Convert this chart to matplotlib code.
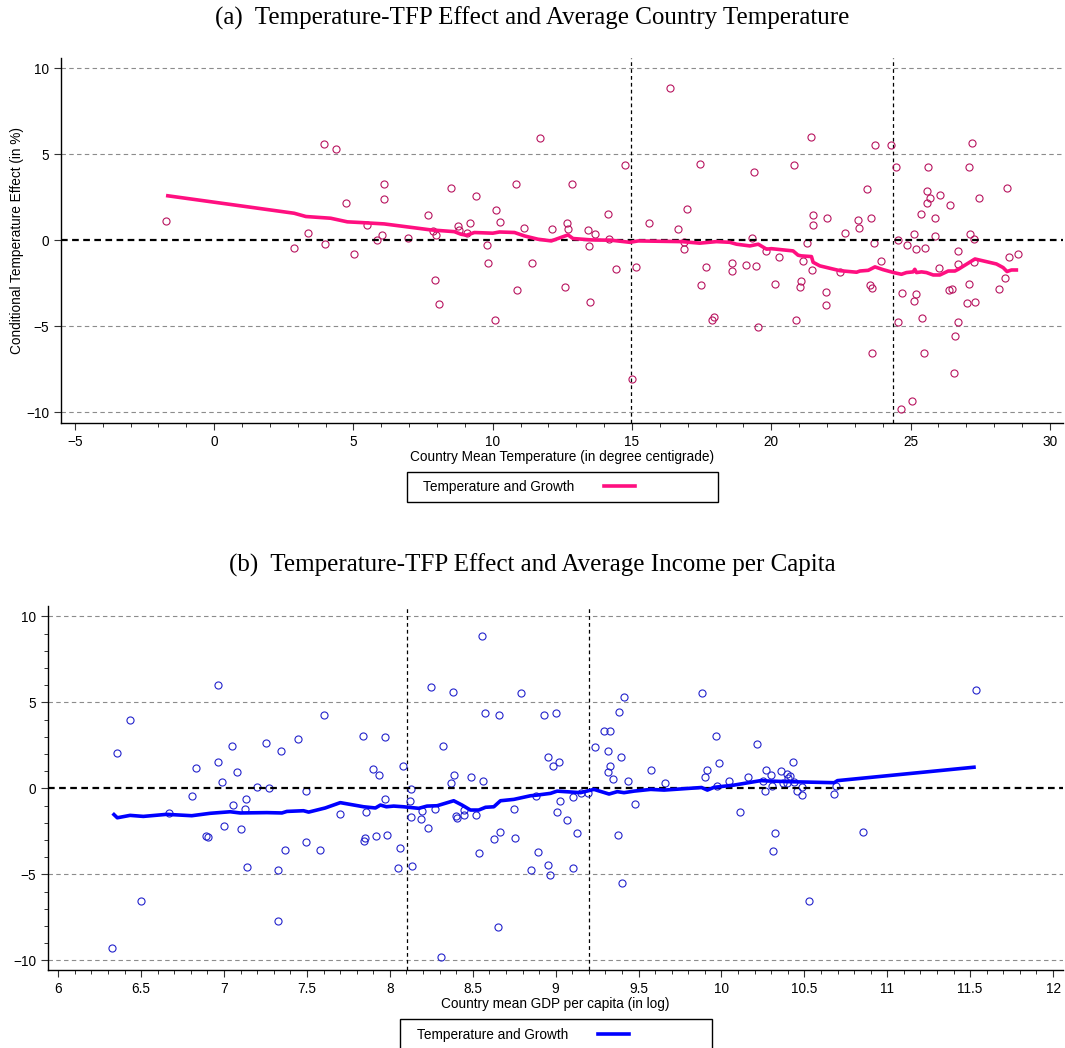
import matplotlib
matplotlib.use('Agg')
import matplotlib.pyplot as plt
from matplotlib.lines import Line2D
from matplotlib.patches import Rectangle
from matplotlib.ticker import MultipleLocator

plt.rcParams['font.family'] = ['Liberation Sans', 'DejaVu Sans']

# ---- panel (a): country mean temperature vs conditional temperature effect
temp_x = [-1.74, 2.88, 3.35, 3.93, 3.98, 4.36, 4.74, 5.01, 5.48, 5.86, 6.01, 6.08, 6.11,
          6.94, 7.69, 7.85, 7.94, 7.96, 8.08, 8.50, 8.74, 8.80, 9.06, 9.19, 9.39, 9.78,
          9.83, 10.08, 10.10, 10.27, 10.83, 10.86, 11.12, 11.40, 11.68, 12.11, 12.61,
          12.67, 12.70, 12.83, 13.42, 13.47, 13.49, 13.66, 14.14, 14.17, 14.42, 14.75,
          15.00, 15.15, 15.60, 16.36, 16.64, 16.87, 16.87, 16.96, 17.43, 17.48, 17.66,
          17.86, 17.93, 18.57, 18.59, 19.10, 19.32, 19.36, 19.44, 19.53, 19.81, 20.12,
          20.26, 20.83, 20.88, 21.02, 21.08, 21.13, 21.29, 21.44, 21.48, 21.48, 21.45,
          21.95, 21.98, 22.01, 22.46, 22.63, 23.10, 23.13, 23.45, 23.55, 23.59, 23.63,
          23.63, 23.70, 23.73, 23.94, 24.28, 24.47, 24.53, 24.55, 24.67, 24.70, 24.86,
          25.04, 25.13, 25.12, 25.20, 25.21, 25.38, 25.40, 25.47, 25.51, 25.57, 25.60,
          25.63, 25.69, 25.88, 25.89, 26.01, 26.05, 26.36, 26.41, 26.48, 26.57, 26.61,
          26.69, 26.71, 26.71, 27.03, 27.11, 27.11, 27.14, 27.22, 27.28, 27.31, 27.28,
          27.47, 28.17, 28.37, 28.46, 28.52, 28.87]
temp_eff = [1.13, -0.42, 0.44, 5.62, -0.18, 5.33, 2.16, -0.77, 0.92, 0.03, 0.30, 3.31, 2.40,
            0.16, 1.48, 0.55, -2.31, 0.30, -3.72, 3.04, 0.81, 0.59, 0.44, 1.02, 2.57, -0.28,
            -1.33, -4.65, 1.79, 1.06, 3.31, -2.90, 0.75, -1.29, 5.93, 0.65, -2.71,
            1.00, 0.65, 3.27, 0.63, -0.34, -3.60, 0.40, 1.52, 0.11, -1.68, 4.39,
            -8.08, -1.56, 1.04, 8.84, 0.69, -0.07, -0.49, 1.81, 4.45, -2.61, -1.56,
            -4.63, -4.47, -1.33, -1.78, -1.45, 0.15, 3.99, -1.50, -5.05, -0.63, -2.55,
            -0.94, 4.36, -4.63, -2.72, -2.38, -1.19, -0.13, 6.02, 1.48, 0.92, -1.72,
            -2.98, -3.78, 1.33, -1.85, 0.46, 1.17, 0.75, 2.98, -2.59, 1.29, -2.76,
            -6.57, -0.13, 5.54, -1.17, 5.54, 4.28, -4.75, 0.01, -9.81, -3.08, -0.26,
            -9.32, -3.50, 0.36, -3.13, -0.49, 1.52, -4.49, -6.55, -0.42, 2.90, 2.16,
            4.26, 2.47, 1.31, 0.28, -1.60, 2.65, -2.90, 2.07, -2.81, -7.73, -5.54,
            -4.76, -0.63, -1.39, -3.66, 4.28, -2.53, 0.40, 5.69, 0.07, -3.60, -1.27,
            2.47, -2.85, -2.18, 3.06, -0.96, -0.77]

# smoothed fit, panel (a)
fit_a_x = [-1.73, 2.87, 3.29, 4.18, 4.78, 5.26, 6.10, 7.78, 8.62, 8.86, 9.06, 9.34, 10.0,
           10.24, 10.78, 11.14, 11.62, 12.10, 12.34, 12.70, 12.88, 13.54, 14.26, 14.92,
           15.22, 16.78, 17.43, 18.03, 18.51, 18.75, 19.23, 19.53, 19.83, 20.0, 20.78,
           20.96, 21.08, 21.44, 21.50, 21.74, 22.46, 23.06, 23.18, 23.48, 23.72, 24.01,
           24.39, 24.67, 24.85, 25.09, 25.15, 25.21, 25.39, 25.57, 25.81, 26.05, 26.35,
           26.59, 26.71, 27.31, 28.08, 28.32, 28.46, 28.62, 28.86]
fit_a_y = [2.61, 1.58, 1.39, 1.29, 1.08, 1.04, 0.96, 0.61, 0.51, 0.36, 0.30, 0.46, 0.42,
           0.49, 0.46, 0.26, 0.07, -0.03, 0.11, 0.32, 0.11, 0.03, 0.01, -0.11,
           -0.03, -0.07, -0.16, -0.07, -0.11, -0.22, -0.32, -0.22, -0.51, -0.48, -0.61,
           -0.86, -0.90, -0.94, -1.27, -1.48, -1.76, -1.85, -1.78, -1.74, -1.54, -1.70,
           -1.87, -1.97, -1.87, -1.83, -1.68, -1.87, -1.83, -1.87, -2.01, -2.01, -1.78,
           -1.78, -1.68, -1.08, -1.37, -1.58, -1.81, -1.72, -1.72]
vlines_a = [14.95, 24.35]

# ---- panel (b): log GDP per capita vs conditional temperature effect
gdp_x = [6.322, 6.356, 6.431, 6.501, 6.670, 6.807, 6.831, 6.892, 6.902, 6.962, 6.962, 6.986,
         6.998, 7.049, 7.053, 7.075, 7.101, 7.125, 7.131, 7.139, 7.200, 7.254, 7.268, 7.324,
         7.324, 7.345, 7.367, 7.447, 7.494, 7.494, 7.580, 7.602, 7.699,
         7.838, 7.844, 7.852, 7.854, 7.900, 7.917, 7.933, 7.971, 7.973, 7.985, 8.049,
         8.059, 8.077, 8.124, 8.126, 8.130, 8.134, 8.187, 8.193, 8.227, 8.251, 8.275,
         8.309, 8.321, 8.366, 8.380, 8.386, 8.396, 8.402, 8.450, 8.450, 8.492, 8.520,
         8.539, 8.555, 8.559, 8.575, 8.629, 8.653, 8.657, 8.665, 8.748, 8.756, 8.790,
         8.853, 8.879, 8.891, 8.931, 8.953, 8.955, 8.965, 8.981, 9.001, 9.009, 9.021,
         9.025, 9.066, 9.104, 9.106, 9.130, 9.150, 9.195, 9.239, 9.292, 9.326, 9.314,
         9.330, 9.318, 9.346, 9.378, 9.384, 9.396, 9.402, 9.410, 9.436, 9.478, 9.577,
         9.658, 9.880, 9.903, 9.910,
         9.966, 9.972, 9.988, 10.048, 10.109, 10.161, 10.215, 10.251, 10.264, 10.271,
         10.296, 10.304, 10.312, 10.324, 10.359, 10.369, 10.395, 10.399, 10.415, 10.395,
         10.433, 10.439, 10.453, 10.483, 10.483, 10.527, 10.680, 10.690, 10.851, 11.534]
gdp_eff = [-9.30, 2.05, 3.99, -6.55, -1.41, -0.43, 1.18, -2.75, -2.85, 6.01, 1.51, 0.35,
           -2.17, 2.48, -0.95, 0.93, -2.38, -1.20, -0.62, -4.59, 0.06, 2.66, 0.02, -4.75,
           -7.71, 2.17, -3.59, 2.89, -0.14, -3.10, -3.59, 4.26, -1.49,
           3.06, -3.04, -2.91, -1.38, 1.14, -2.79, 0.76, -0.62, 2.98, -2.71, -4.63,
           -3.47, 1.30, -0.76, -1.67, -0.06, -4.50, -1.76, -1.34, -2.29, 5.91, -1.20,
           -9.79, 2.48, 0.29, 5.62, 0.76, -1.59, -1.74, -1.55, -1.28, 0.64, -1.57,
           -3.76, 8.84, 0.45, 4.36, -2.97, -8.04, 4.26, -2.54, -1.18, -2.89, 5.54,
           -4.75, -0.45, -3.70, 4.28, -4.46, 1.80, -5.04, 1.32, 4.40, -1.38, 1.51,
           -0.76, -1.82, -0.48, -4.61, -2.60, -0.27, -0.27, 2.40, 3.31, 3.31, 2.17,
           1.32, 0.95, 0.54, -2.69, 4.46, 1.82, -5.52, 5.33, 0.41, -0.93, 1.07,
           0.33, 5.54, 0.67, 1.05,
           3.04, 0.14, 1.49, 0.41, -1.36, 0.64, 2.58, 0.45, -0.14, 1.05,
           0.76, 0.14, -3.64, -2.60, 1.01, 0.29, 0.85, 0.58, 0.72, 0.29,
           1.53, 0.35, -0.16, 0.06, -0.41, -6.53, -0.33, 0.14, -2.52, 5.72]

# smoothed fit, panel (b)
fit_b_x = [6.328, 6.356, 6.433, 6.513, 6.654, 6.805, 6.916, 7.037, 7.097, 7.258, 7.349,
           7.379, 7.479, 7.510, 7.610, 7.701, 7.842, 7.913, 7.943, 7.979, 8.023, 8.083,
           8.174, 8.224, 8.285, 8.385, 8.435, 8.486, 8.536, 8.577, 8.627, 8.667, 8.748,
           8.848, 8.889, 8.969, 9.009, 9.150, 9.231, 9.322, 9.372, 9.412, 9.473, 9.573,
           9.654, 9.880, 9.915, 9.955, 10.076, 10.237, 10.277, 10.398, 10.680, 10.700,
           11.534]
fit_b_y = [-1.45, -1.71, -1.57, -1.63, -1.51, -1.59, -1.45, -1.36, -1.43, -1.41, -1.43,
           -1.34, -1.30, -1.38, -1.14, -0.83, -1.07, -1.14, -0.97, -1.07, -1.03, -1.07,
           -1.16, -1.03, -1.01, -0.72, -0.97, -1.26, -1.26, -1.10, -1.07, -0.72, -0.64,
           -0.43, -0.39, -0.29, -0.16, -0.25, -0.06, -0.33, -0.19, -0.25, -0.16, -0.06,
           -0.10, 0.05, -0.10, 0.06, 0.19, 0.45, 0.43, 0.39, 0.33, 0.45,
           1.24]
vlines_b = [8.104, 9.203]

W, H = 1065, 1048
FS = 9.8
fig = plt.figure(figsize=(W / 100, H / 100), dpi=100)


def fx(px):
    return px / W


def fy(py):
    return 1 - py / H


def style_axes(ax, yminor):
    for s in ['top', 'right']:
        ax.spines[s].set_visible(False)
    ax.spines['left'].set_linewidth(1.0)
    ax.spines['bottom'].set_linewidth(1.0)
    ax.set_yticks([-10, -5, 0, 5, 10])
    if yminor:
        ax.yaxis.set_minor_locator(MultipleLocator(1))
    ax.tick_params(which='major', length=5, width=0.8, labelsize=FS, color='#333333')
    ax.tick_params(which='minor', length=3, width=0.7, color='#333333')
    for yv in [-10, -5, 5, 10]:
        ax.axhline(yv, color='#8c8c8c', lw=0.8, ls=(0, (4, 3)), zorder=0)
    ax.axhline(0, color='black', lw=1.6, ls=(0, (3, 2)), zorder=3)


# panel (a)
ax1 = fig.add_axes([fx(61), fy(423), fx(1063) - fx(61), fy(58) - fy(423)])
style_axes(ax1, yminor=False)
for v in vlines_a:
    ax1.axvline(v, color='black', lw=0.9, ls=(0, (3, 2.5)), zorder=1)
ax1.plot(temp_x, temp_eff, 'o', mfc='none', mec='#b8145f', ms=5.1, mew=0.8, zorder=2)
ax1.plot(fit_a_x, fit_a_y, color='#ff0f80', lw=2.6, solid_capstyle='butt', zorder=4)
ax1.set_xlim(-5.5, 30.47)
ax1.set_ylim(-10.62, 10.61)
ax1.xaxis.set_major_locator(MultipleLocator(5))
ax1.xaxis.set_minor_locator(MultipleLocator(1))
ax1.set_xlabel('Country Mean Temperature (in degree centigrade)', fontsize=FS, labelpad=1)
ax1.set_ylabel('Conditional Temperature Effect (in %)', fontsize=FS)
ax1.yaxis.set_label_coords(-0.037, 0.5)

# panel (b)
ax2 = fig.add_axes([fx(48), fy(970), fx(1063) - fx(48), fy(605.7) - fy(970)])
style_axes(ax2, yminor=True)
for v in vlines_b:
    ax2.axvline(v, color='black', lw=0.9, ls=(0, (3, 2.5)), zorder=1)
ax2.plot(gdp_x, gdp_eff, 'o', mfc='none', mec='#2323cc', ms=5.1, mew=0.8, zorder=2)
ax2.plot(fit_b_x, fit_b_y, color='#0000ff', lw=2.6, solid_capstyle='butt', zorder=4)
ax2.set_xlim(5.938, 12.06)
ax2.set_ylim(-10.56, 10.62)
ax2.xaxis.set_minor_locator(MultipleLocator(0.1))
ax2.set_xticks([6, 6.5, 7, 7.5, 8, 8.5, 9, 9.5, 10, 10.5, 11, 11.5, 12])
ax2.set_xticklabels(['6', '6.5', '7', '7.5', '8', '8.5', '9', '9.5', '10', '10.5', '11',
                     '11.5', '12'])
ax2.set_xlabel('Country mean GDP per capita (in log)', fontsize=FS, labelpad=1)

# titles
fig.text(0.5, fy(18), '(a)  Temperature-TFP Effect and Average Country Temperature',
         ha='center', va='center', fontsize=18, family='Liberation Serif')
fig.text(0.5, fy(565), '(b)  Temperature-TFP Effect and Average Income per Capita',
         ha='center', va='center', fontsize=18, family='Liberation Serif')

# legends: framed box with label first, then the line sample
for (x0, y0, x1, y1, tx, ty, col) in [(407, 472, 718, 502, 423, 487, '#ff0f80'),
                                         (400, 1019, 712, 1050, 417, 1035, '#0000ff')]:
    fig.patches.append(Rectangle((fx(x0), fy(y1)), fx(x1) - fx(x0), fy(y0) - fy(y1),
                                 transform=fig.transFigure, fill=False,
                                 edgecolor='black', lw=1.0))
    fig.legend(handles=[Line2D([], [], color=col, lw=2.6)],
               labels=['Temperature and Growth'], loc='center left',
               bbox_to_anchor=(fx(tx), fy(ty)), frameon=False, markerfirst=False,
               borderpad=0, borderaxespad=0, handlelength=2.28, handletextpad=2.2,
               fontsize=FS)

fig.savefig('out.png', dpi=100)
